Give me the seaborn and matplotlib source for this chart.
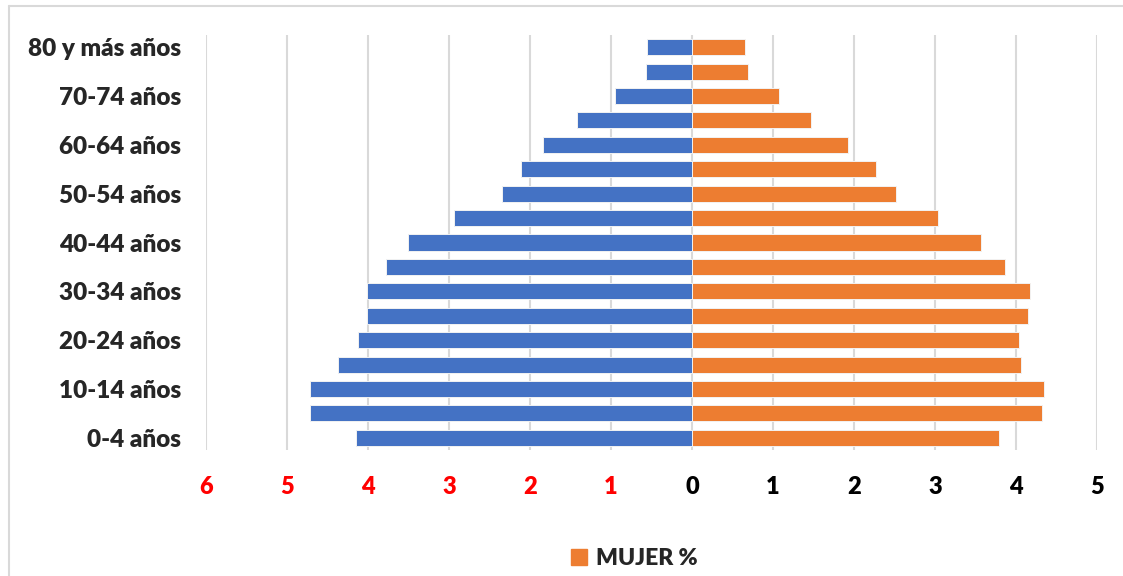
import matplotlib
matplotlib.use("Agg")
import matplotlib.pyplot as plt
import matplotlib.patches as mpatches
import matplotlib.lines as mlines
import pandas as pd
import seaborn as sns

# age groups, top of the pyramid first
age_groups = ["80 y más años", "75-79 años", "70-74 años", "65-69 años", "60-64 años",
              "55-59 años", "50-54 años", "45-49 años", "40-44 años", "35-39 años",
              "30-34 años", "25-29 años", "20-24 años", "15-19 años", "10-14 años",
              "5-9 años", "0-4 años"]
hombre = [0.55, 0.57, 0.95, 1.42, 1.84, 2.11, 2.35, 2.94, 3.51, 3.78,
          4.01, 4.01, 4.12, 4.37, 4.72, 4.71, 4.15]
mujer = [0.65, 0.69, 1.07, 1.47, 1.92, 2.27, 2.52, 3.04, 3.57, 3.87,
         4.17, 4.15, 4.04, 4.06, 4.35, 4.32, 3.79]
x_ticks = [-6, -5, -4, -3, -2, -1, 0, 1, 2, 3, 4, 5]

df = pd.DataFrame({
    "edad": age_groups * 2,
    "valor": [-v for v in hombre] + mujer,
    "sexo": ["HOMBRE %"] * len(hombre) + ["MUJER %"] * len(mujer),
})

sns.set_style("white")
plt.rcParams["font.family"] = ["Lato", "DejaVu Sans"]

fig = plt.figure(figsize=(11.23, 5.76), dpi=100)
ax = fig.add_axes([206 / 1123, 126 / 576, 891 / 1123, 415 / 576])

sns.barplot(data=df, y="edad", x="valor", hue="sexo", order=age_groups,
            palette={"HOMBRE %": "#4472C4", "MUJER %": "#ED7D31"},
            saturation=1, dodge=False, width=0.66, orient="h",
            edgecolor="#F2F2F2", linewidth=0.7, legend=False, ax=ax)

ax.set_xlim(-6, 5)
ax.set_ylim(16.5, -0.5)
ax.set_xticks(x_ticks)
ax.set_xticklabels([str(abs(v)) for v in x_ticks], fontweight="heavy", fontsize=17)
for lab, v in zip(ax.get_xticklabels(), x_ticks):
    lab.set_color("#FF0000" if v < 0 else "black")

ax.set_yticks(range(len(age_groups)))
ax.set_yticklabels([g if i % 2 == 0 else "" for i, g in enumerate(age_groups)],
                   fontweight="heavy", fontsize=17.5)

ax.grid(axis="x", color="#D9D9D9", linewidth=1.5)
ax.grid(axis="y", visible=False)
ax.set_axisbelow(True)
for s in ax.spines.values():
    s.set_visible(False)
ax.tick_params(axis="x", length=0, pad=19)
ax.tick_params(axis="y", length=0, pad=18)
ax.set_xlabel("")
ax.set_ylabel("")

handle = mpatches.Patch(color="#ED7D31")
fig.legend(handles=[handle], labels=["MUJER %"], loc="center",
           bbox_to_anchor=(0.565, 0.031), frameon=False,
           prop={"weight": "heavy", "size": 16.5},
           handlelength=0.7, handleheight=0.7, handletextpad=0.4)

# chart area border (cropped on the right and bottom)
fig.add_artist(mlines.Line2D([8.5 / 1123, 8.5 / 1123], [0, 1 - 6 / 576],
                             color="#D9D9D9", linewidth=1.5))
fig.add_artist(mlines.Line2D([8.5 / 1123, 1], [1 - 6 / 576, 1 - 6 / 576],
                             color="#D9D9D9", linewidth=1.5))

fig.savefig("out.png", dpi=100)
